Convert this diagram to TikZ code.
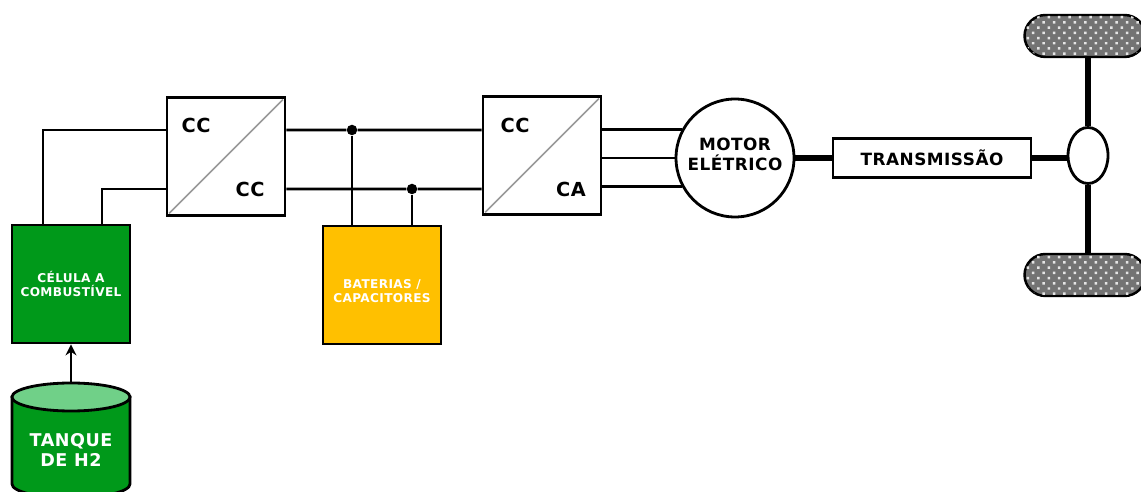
\documentclass[tikz,border=0pt]{standalone}
\usepackage{fontspec}
\setmainfont[LetterSpace=3]{DejaVu Sans}
\usetikzlibrary{positioning,arrows.meta,shapes.geometric,shapes.misc,patterns.meta}
\definecolor{cellgreen}{RGB}{0,153,26}
\definecolor{tankgreen}{RGB}{112,208,136}
\definecolor{battyellow}{RGB}{255,192,0}
\tikzset{
  blockbox/.style={draw=black, line width=1.6pt, minimum width=2.36cm, minimum height=2.36cm,
             inner sep=0pt, align=center, text=white, font=\fontsize{6.9}{8}\selectfont\bfseries},
  convbox/.style={blockbox, fill=white},
  convtxt/.style={font=\fontsize{11}{13}\selectfont\bfseries, inner sep=0pt},
  wire/.style={draw=black, line width=1.6pt},
  shaft/.style={draw=black, line width=3pt},
  junc/.style={circle, fill=black, minimum size=0.21cm, inner sep=0pt},
  wheelbox/.style={rounded rectangle, draw=black, line width=1.4pt, fill=black!55,
             minimum width=2.42cm, minimum height=0.84cm, inner sep=0pt,
             postaction={pattern={Dots[distance=4.2pt,radius=1pt,angle=45]}, pattern color=white!90!black}}
}

\begin{document}
\begin{tikzpicture}[x=0.02cm, y=-0.02cm]
  \useasboundingbox (0,0) rectangle (1141,492);
  \fill[white] (0,0) rectangle (1141,492);
  % fuel side
  \node[blockbox, fill=cellgreen] (cell) at (71,284) {C\'ELULA A\\COMBUST\'IVEL};
  \draw[black, line width=1.6pt, fill=cellgreen] (12,397) -- (12,484) arc[x radius=59, y radius=14, start angle=180, end angle=0] -- (130,397) -- cycle;
  \draw[black, line width=1.6pt, fill=tankgreen] (71,397) ellipse[x radius=59, y radius=14];
  \node[minimum width=2.36cm, minimum height=2.72cm, inner sep=0pt, align=center, text=white,
        font=\fontsize{10}{11.5}\selectfont\bfseries] (tank) at (71,450) {TANQUE\\DE H2};
  \node[blockbox, fill=battyellow] (batt) at (382,285) {\rule{0pt}{12pt}BATERIAS /\\CAPACITORES};
  % converters
  \node[convbox] (dcdc) at (226,156.5) {};
  \node[convbox] (dcac) at (542,155.5) {};
  \draw[black!40, line width=1pt] ([shift={(2pt,2pt)}]dcdc.south west) -- ([shift={(-2pt,-2pt)}]dcdc.north east);
  \draw[black!40, line width=1pt] ([shift={(2pt,2pt)}]dcac.south west) -- ([shift={(-2pt,-2pt)}]dcac.north east);
  \node[convtxt] (cc1) at (196,125) {CC};
  \node[convtxt] (cc2) at (250,189) {CC};
  \node[convtxt] (cc3) at (515,125) {CC};
  \node[convtxt] (ca1) at (571,189) {CA};
  % motor and drive
  \node[circle, draw=black, line width=1.6pt, fill=white, minimum size=2.36cm, inner sep=0pt, align=center,
        font=\fontsize{9.6}{11.5}\selectfont\bfseries] (motor) at (735,158) {MOTOR\\EL\'ETRICO\rule[-4pt]{0pt}{0pt}};
  \node[draw=black, line width=1.2pt, fill=white, minimum width=3.96cm, minimum height=0.78cm, inner sep=0pt,
        font=\fontsize{9.6}{11}\selectfont\bfseries] (trans) at (932,158) {TRANSMISS\~AO};
  \node[ellipse, draw=black, line width=1.6pt, fill=white, minimum width=0.8cm, minimum height=1.12cm, inner sep=0pt] (diff) at (1088,155.5) {};
  \node[wheelbox] (wheeltop) at (1085,36) {};
  \node[wheelbox] (wheelbot) at (1085,275) {};
  \node[junc] (j1) at (352,130) {};
  \node[junc] (j2) at (412,189) {};
  % wires
  \draw[wire] ([xshift=-0.56cm]cell.north) |- ([yshift=0.53cm]dcdc.west);
  \draw[wire] ([xshift=0.62cm]cell.north) |- ([yshift=-0.65cm]dcdc.west);
  \draw[wire] ([yshift=0.53cm]dcdc.east) -- (j1) -- (j1 -| dcac.west);
  \draw[wire] ([yshift=-0.65cm]dcdc.east) -- (j2) -- (j2 -| dcac.west);
  \draw[wire] (j1) -- (j1 |- batt.north);
  \draw[wire] (j2) -- (j2 |- batt.north);
  \draw[wire] (motor.152 -| dcac.east) -- (motor.152);
  \draw[wire] (motor.west -| dcac.east) -- (motor.west);
  \draw[wire] (motor.208 -| dcac.east) -- (motor.208);
  \draw[shaft] (motor) -- (trans);
  \draw[shaft] (trans.east) -- (trans.east -| diff.west);
  \draw[shaft] (diff.north) -- (diff.north |- wheeltop.south);
  \draw[shaft] (diff.south) -- (diff.south |- wheelbot.north);
  \draw[wire, -{Stealth[length=2.2mm,width=2.2mm]}] (tank.north) -- (cell.south);
\end{tikzpicture}
\end{document}
